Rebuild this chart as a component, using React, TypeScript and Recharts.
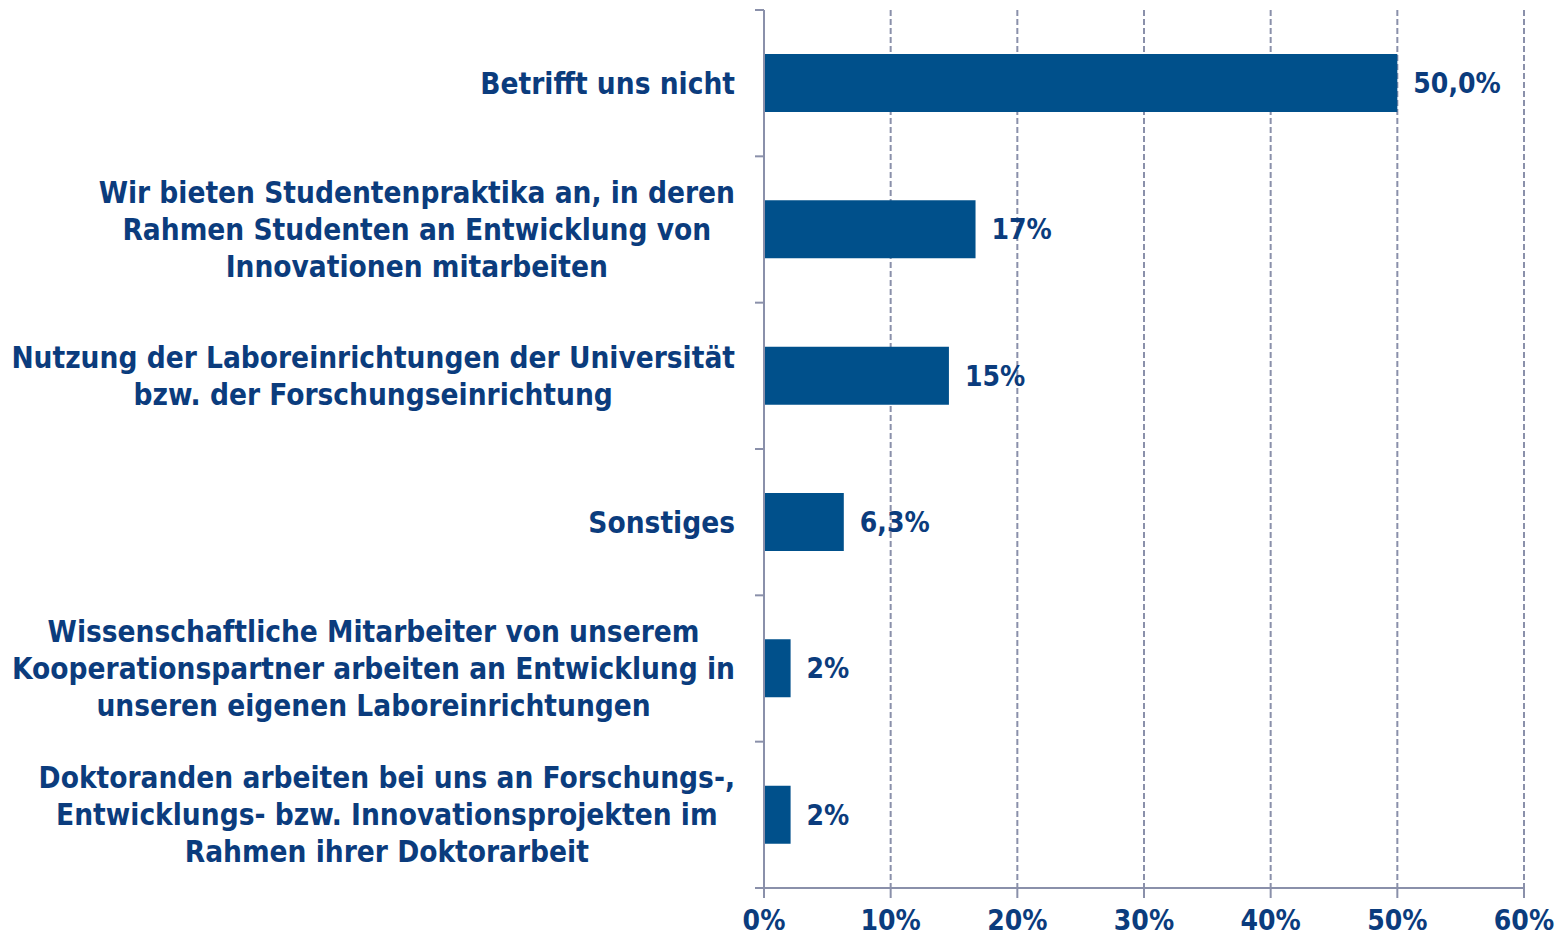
import React from "react";
import {
  BarChart,
  Bar,
  XAxis,
  YAxis,
  CartesianGrid,
  LabelList,
} from "recharts";

// categories (top to bottom), each line of the label separated by "\n"
const categories = [
  "Betrifft uns nicht",
  "Wir bieten Studentenpraktika an, in deren\nRahmen Studenten an Entwicklung von\nInnovationen mitarbeiten",
  "Nutzung der Laboreinrichtungen der Universität\nbzw. der Forschungseinrichtung",
  "Sonstiges",
  "Wissenschaftliche Mitarbeiter von unserem\nKooperationspartner arbeiten an Entwicklung in\nunseren eigenen Laboreinrichtungen",
  "Doktoranden arbeiten bei uns an Forschungs-,\nEntwicklungs- bzw. Innovationsprojekten im\nRahmen ihrer Doktorarbeit",
];
const values = [50.0, 16.7, 14.6, 6.3, 2.1, 2.1];
const valueLabels = ["50,0%", "17%", "15%", "6,3%", "2%", "2%"];
const xTicks = [0, 10, 20, 30, 40, 50, 60];

const data = categories.map((name, i) => ({
  name,
  value: values[i],
  label: valueLabels[i],
}));

const W = 1568;
const H = 941;
const MARGIN = { top: 10, right: 44, bottom: 0, left: 0 };
const Y_AXIS_W = 764;
const X_AXIS_H = 53;

const BAR = "#00508B";
const TEXT = "#0B3C7D";
const AXIS = "#8A90AA";
const FONT = '"DejaVu Sans Condensed", "DejaVu Sans", sans-serif';
const FS = 29.5;
const LINE_H = 37;

let ctx: CanvasRenderingContext2D | null = null;
const measure = (s: string) => {
  if (!ctx) ctx = document.createElement("canvas").getContext("2d");
  if (!ctx) return s.length * FS * 0.5;
  ctx.font = `bold ${FS}px ${FONT}`;
  return ctx.measureText(s).width;
};

const bandSize = (H - MARGIN.top - MARGIN.bottom - X_AXIS_H) / categories.length;

const CategoryTick = (props: any) => {
  const { x, y, payload, index } = props;
  const lines: string[] = String(payload.value).split("\n");
  const maxW = Math.max(...lines.map(measure));
  const cx = x - 29 - maxW / 2;
  const y0 = y - ((lines.length - 1) * LINE_H) / 2;
  return (
    <g>
      <line x1={x - 9} x2={x} y1={y - bandSize / 2} y2={y - bandSize / 2} stroke={AXIS} strokeWidth={2} />
      {index === categories.length - 1 && (
        <line x1={x - 9} x2={x} y1={y + bandSize / 2} y2={y + bandSize / 2} stroke={AXIS} strokeWidth={2} />
      )}
      <text
        textAnchor="middle"
        fill={TEXT}
        fontFamily={FONT}
        fontWeight="bold"
        fontSize={FS}
      >
        {lines.map((l, i) => (
          <tspan key={i} x={cx} y={y0 + i * LINE_H} dy="0.36em">
            {l}
          </tspan>
        ))}
      </text>
    </g>
  );
};

export default function App() {
  return (
    <div style={{ position: "absolute", left: 0, top: 0, width: W, height: H, background: "#fff" }}>
      <BarChart
        width={W}
        height={H}
        data={data}
        layout="vertical"
        margin={MARGIN}
        barCategoryGap={0}
      >
        <CartesianGrid
          horizontal={false}
          vertical
          stroke={AXIS}
          strokeWidth={2}
          strokeDasharray="6 3"
        />
        <XAxis
          type="number"
          domain={[0, 60]}
          ticks={xTicks}
          tickFormatter={(v) => `${v}%`}
          height={X_AXIS_H}
          axisLine={{ stroke: AXIS, strokeWidth: 2 }}
          tickLine={{ stroke: AXIS, strokeWidth: 2 }}
          tickSize={10}
          tickMargin={12}
          tick={{ fill: TEXT, fontSize: 28, fontWeight: "bold", fontFamily: FONT }}
          interval={0}
        />
        <YAxis
          type="category"
          dataKey="name"
          width={Y_AXIS_W}
          axisLine={{ stroke: AXIS, strokeWidth: 2 }}
          tickLine={false}
          tickSize={0}
          tickMargin={0}
          tick={<CategoryTick />}
          interval={0}
        />
        <Bar dataKey="value" fill={BAR} barSize={58} isAnimationActive={false}>
          <LabelList
            dataKey="label"
            position="right"
            offset={16}
            fill={TEXT}
            fontSize={28}
            fontWeight="bold"
            fontFamily={FONT}
          />
        </Bar>
      </BarChart>
    </div>
  );
}
